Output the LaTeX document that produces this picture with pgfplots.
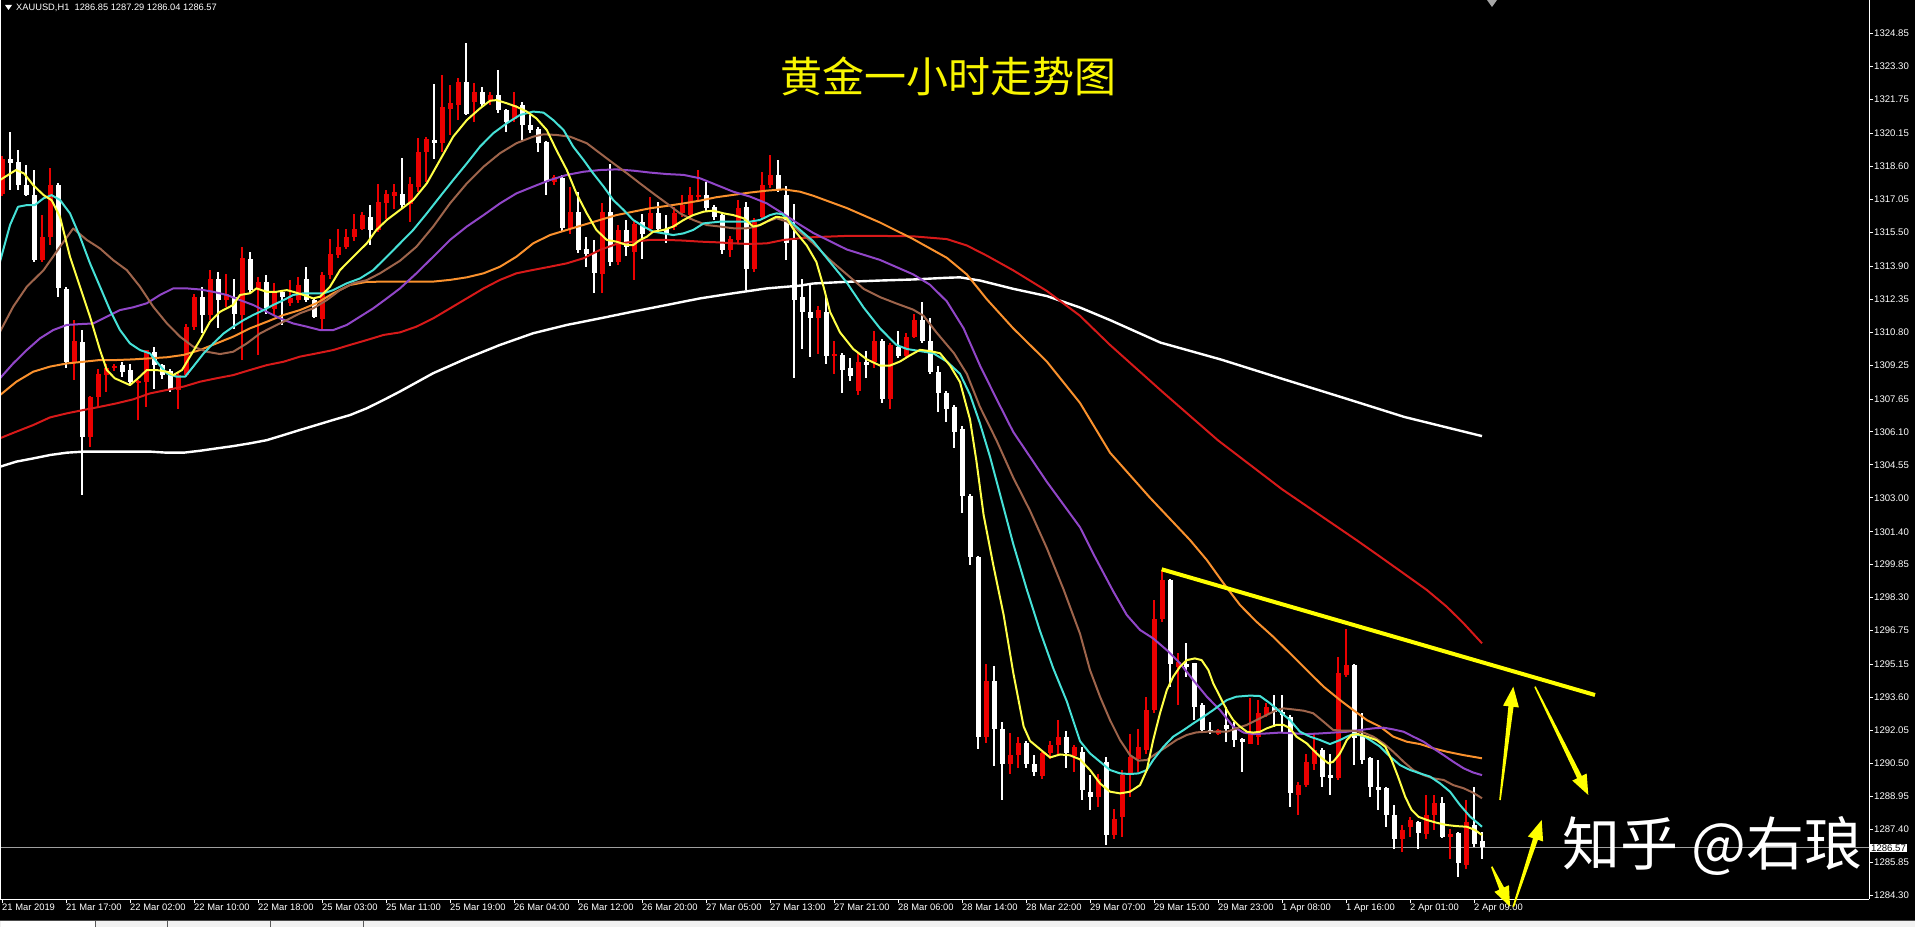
\documentclass[border=0pt]{standalone}
\usepackage{fontspec}
\setmainfont{Liberation Sans}
\newfontfamily\cjk{Noto Sans CJK SC}
\usepackage{pgfplots}
\pgfplotsset{compat=1.18}
\usepackage{pgfplotstable}
\usetikzlibrary{calc}
\pgfdeclarelayer{bg}
\pgfsetlayers{bg,main}
\definecolor{candred}{RGB}{235,0,0}
\definecolor{mayellow}{RGB}{255,255,70}
\definecolor{macyan}{RGB}{70,225,215}
\definecolor{mabrown}{RGB}{158,100,75}
\definecolor{mapurple}{RGB}{145,70,200}
\definecolor{maorange}{RGB}{250,145,45}
\definecolor{mared}{RGB}{215,25,25}
\definecolor{annoyellow}{RGB}{255,255,0}
\definecolor{titleyellow}{RGB}{248,245,0}

\pgfplotstableread{
i o h l c
0 1317.32 1319.10 1317.20 1318.97
5 1314.18 1316.30 1314.10 1315.28
6 1315.28 1318.50 1314.90 1317.71
9 1309.40 1311.36 1308.54 1310.37
11 1305.87 1307.80 1305.40 1307.76
12 1307.76 1309.09 1307.30 1308.85
13 1308.78 1309.32 1308.00 1309.09
14 1309.13 1309.32 1308.95 1309.20
17 1308.40 1308.56 1306.66 1308.50
18 1308.46 1309.95 1307.28 1309.95
22 1308.07 1308.93 1307.20 1308.78
23 1308.78 1311.20 1308.70 1311.05
24 1311.05 1312.60 1310.90 1312.46
26 1311.60 1313.71 1311.36 1313.32
28 1312.30 1313.56 1312.00 1312.62
30 1311.60 1314.81 1309.48 1314.26
32 1312.85 1313.40 1309.72 1313.16
34 1311.91 1313.10 1311.60 1312.69
36 1312.15 1313.24 1312.05 1312.38
37 1312.30 1313.40 1312.15 1313.01
40 1311.44 1313.64 1310.89 1313.48
41 1313.48 1315.20 1313.30 1314.50
42 1314.42 1315.67 1314.30 1314.81
43 1314.81 1315.67 1314.70 1315.28
44 1315.28 1316.38 1315.10 1315.67
45 1315.67 1316.46 1315.60 1316.30
47 1315.60 1317.79 1315.50 1316.93
48 1316.85 1317.48 1316.14 1317.32
49 1317.24 1317.79 1316.60 1317.40
51 1316.85 1318.10 1315.99 1317.79
52 1317.64 1319.91 1317.40 1319.28
53 1319.28 1320.00 1317.87 1319.91
55 1319.68 1322.89 1319.28 1321.40
56 1321.32 1322.42 1320.07 1321.56
57 1321.48 1322.73 1320.77 1322.58
59 1321.64 1322.50 1320.69 1322.11
61 1321.72 1322.11 1321.50 1321.95
64 1320.85 1322.11 1320.70 1321.48
69 1317.87 1318.20 1317.70 1318.10
71 1315.67 1317.64 1315.44 1316.46
75 1313.56 1316.85 1312.62 1316.46
77 1314.10 1315.83 1313.95 1315.60
79 1314.58 1316.07 1313.24 1315.91
81 1315.67 1317.16 1315.50 1316.38
84 1315.75 1316.70 1315.60 1316.38
85 1316.38 1317.24 1316.20 1316.77
86 1316.30 1317.64 1316.10 1317.24
87 1317.16 1318.42 1317.00 1317.24
91 1314.65 1315.30 1314.34 1315.20
92 1315.12 1317.00 1315.00 1316.62
94 1313.79 1316.14 1313.60 1315.99
95 1316.22 1318.34 1316.10 1317.71
96 1317.71 1319.13 1317.60 1318.18
102 1311.46 1312.05 1309.80 1311.85
104 1309.67 1310.39 1308.83 1309.80
107 1308.05 1309.80 1307.85 1309.41
109 1309.41 1310.87 1309.12 1310.39
111 1307.66 1310.29 1307.17 1310.19
113 1309.70 1310.78 1309.60 1310.58
114 1310.58 1311.65 1310.50 1311.36
123 1291.76 1295.17 1291.47 1294.39
126 1290.49 1291.95 1290.00 1290.88
127 1290.88 1291.76 1290.30 1291.47
130 1289.90 1291.07 1289.80 1290.98
131 1290.98 1291.56 1290.70 1291.37
132 1291.37 1292.54 1290.88 1291.76
134 1290.88 1291.37 1290.10 1291.27
137 1288.93 1290.03 1288.46 1289.80
139 1287.13 1288.38 1286.97 1287.91
140 1287.99 1290.19 1287.05 1289.95
141 1290.03 1291.91 1288.93 1290.82
142 1290.74 1292.15 1290.11 1291.29
143 1291.13 1293.64 1290.97 1293.01
144 1293.01 1298.19 1292.86 1297.32
145 1297.32 1299.60 1297.17 1299.13
147 1295.05 1295.68 1293.25 1295.29
152 1291.91 1292.15 1291.85 1292.07
156 1291.44 1293.56 1291.44 1291.91
157 1291.76 1293.48 1291.36 1292.86
158 1292.78 1293.33 1292.70 1293.17
162 1289.01 1289.64 1288.07 1289.48
163 1289.48 1290.97 1289.40 1290.58
164 1290.50 1291.91 1290.19 1291.13
167 1289.80 1295.52 1289.72 1294.74
168 1294.66 1296.85 1294.58 1295.13
175 1286.97 1287.60 1286.35 1287.37
176 1287.52 1287.99 1287.05 1287.83
178 1287.21 1289.01 1286.97 1288.07
179 1288.07 1289.01 1287.37 1288.62
181 1287.05 1287.44 1286.03 1287.21
183 1285.72 1288.78 1285.56 1287.76
}\bullT

\pgfplotstableread{
i o h l c
1 1318.97 1320.22 1317.48 1318.78
2 1318.81 1319.36 1317.48 1317.71
3 1317.71 1318.65 1317.20 1317.24
4 1317.24 1318.42 1314.10 1314.18
7 1317.71 1317.80 1312.46 1312.85
8 1312.85 1312.90 1309.09 1309.40
10 1310.37 1310.89 1303.13 1305.87
15 1309.25 1309.40 1308.70 1308.93
16 1309.00 1309.32 1308.30 1308.46
19 1309.87 1310.10 1308.15 1309.25
20 1309.25 1309.32 1308.62 1308.78
21 1309.00 1309.09 1308.00 1308.15
25 1312.46 1312.93 1310.73 1311.60
27 1313.32 1313.64 1310.97 1312.30
29 1312.46 1313.32 1310.97 1311.67
31 1314.26 1314.57 1312.60 1312.77
33 1313.16 1313.48 1311.67 1311.91
35 1312.69 1312.80 1311.13 1312.46
38 1313.32 1313.87 1312.20 1312.30
39 1312.30 1312.40 1311.44 1311.52
46 1316.22 1316.77 1314.89 1315.60
50 1317.32 1318.97 1316.60 1316.77
54 1319.83 1322.50 1318.97 1319.68
58 1322.58 1324.38 1321.01 1321.09
60 1322.11 1322.34 1321.40 1321.56
62 1321.95 1323.13 1321.09 1321.24
63 1321.24 1321.30 1320.23 1320.69
65 1321.48 1321.64 1319.83 1320.54
66 1320.54 1321.01 1320.15 1320.30
67 1320.38 1320.45 1319.28 1319.68
68 1319.76 1319.80 1317.24 1317.87
70 1318.03 1318.18 1315.50 1315.67
72 1316.46 1317.40 1314.50 1314.65
73 1314.73 1315.28 1313.87 1314.50
74 1314.50 1315.12 1312.62 1313.56
76 1316.46 1318.73 1313.90 1314.10
78 1315.60 1316.07 1314.40 1314.81
80 1315.99 1316.38 1314.26 1315.44
82 1316.38 1316.93 1315.50 1315.67
83 1315.67 1316.30 1314.97 1315.44
88 1317.24 1317.87 1316.50 1316.62
89 1316.70 1316.80 1316.10 1316.22
90 1316.30 1316.40 1314.50 1314.65
93 1316.70 1316.90 1312.77 1313.79
97 1318.18 1318.89 1317.40 1317.56
98 1317.24 1317.70 1314.18 1315.00
99 1315.12 1316.82 1308.63 1312.30
100 1312.44 1313.31 1310.00 1311.75
101 1311.75 1313.02 1309.60 1311.46
103 1311.75 1312.44 1309.30 1309.70
105 1309.70 1309.80 1307.95 1309.02
106 1309.12 1309.60 1308.50 1308.73
108 1309.41 1309.90 1308.63 1309.26
110 1310.39 1310.48 1307.46 1307.66
112 1310.10 1310.87 1309.60 1309.70
115 1311.36 1312.24 1310.30 1310.39
116 1310.39 1311.46 1308.83 1308.92
117 1308.92 1309.20 1307.07 1307.95
118 1307.95 1308.05 1306.58 1307.17
119 1307.27 1307.36 1305.32 1306.10
120 1306.25 1306.39 1302.29 1303.07
121 1303.07 1303.17 1299.85 1300.24
122 1300.24 1300.28 1291.17 1291.76
124 1294.39 1295.08 1290.39 1292.15
125 1292.15 1292.44 1288.77 1290.49
128 1291.47 1291.56 1290.30 1290.49
129 1290.49 1290.88 1289.90 1290.10
133 1291.76 1292.05 1290.30 1290.98
135 1291.05 1291.29 1288.78 1289.25
136 1289.17 1289.95 1288.31 1288.93
138 1290.58 1290.82 1286.66 1287.13
146 1299.13 1299.20 1294.11 1295.21
148 1295.21 1296.15 1294.58 1295.05
149 1295.21 1295.25 1292.54 1293.17
150 1293.25 1293.33 1291.91 1292.07
151 1292.11 1292.46 1291.91 1292.02
153 1292.31 1293.17 1291.52 1292.15
154 1292.23 1292.46 1291.29 1291.60
155 1291.64 1291.68 1290.11 1291.49
159 1293.17 1293.72 1292.23 1292.93
160 1292.93 1293.72 1292.00 1292.78
161 1292.70 1292.78 1288.46 1289.09
165 1291.13 1291.21 1289.40 1289.88
166 1289.95 1290.97 1289.01 1289.80
169 1295.13 1295.20 1290.42 1291.68
170 1291.84 1292.86 1290.50 1290.66
171 1290.74 1290.80 1288.93 1289.40
172 1289.40 1290.66 1288.31 1289.25
173 1289.33 1289.40 1287.52 1288.07
174 1288.07 1288.54 1286.50 1286.97
177 1287.76 1287.80 1286.50 1287.21
180 1288.62 1288.93 1286.97 1287.05
182 1287.21 1287.29 1285.17 1285.80
184 1287.60 1289.40 1286.58 1286.74
185 1286.85 1287.29 1286.04 1286.57
}\bearT

\newcommand{\yarrow}[2]{%
  \coordinate (T) at #1; \coordinate (P) at #2;
  \coordinate (B) at ($(P)!20pt!(T)$);
  \fill[annoyellow] ($(T)!0.8pt!90:(P)$) -- ($(B)!2.6pt!90:(P)$) -- ($(B)!8pt!90:(P)$) -- (P)
     -- ($(B)!8pt!-90:(P)$) -- ($(B)!2.6pt!-90:(P)$) -- ($(T)!0.8pt!-90:(P)$) -- cycle;}

\begin{document}
\begin{tikzpicture}[x=1pt,y=1pt]
\begin{axis}[
  at={(0,28)}, anchor=south west, scale only axis,
  width=1869pt, height=899pt,
  xmin=-0.25, xmax=233.375, ymin=1284.12, ymax=1326.42,
  axis x line=bottom, axis y line=right,
  axis line style={-, white, line width=1pt},
  tick align=outside, major tick length=4pt,
  tick style={white, line width=0.8pt},
  xtick={0,8,...,184},
  xticklabels={21 Mar 2019,21 Mar 17:00,22 Mar 02:00,22 Mar 10:00,22 Mar 18:00,25 Mar 03:00,25 Mar 11:00,25 Mar 19:00,26 Mar 04:00,26 Mar 12:00,26 Mar 20:00,27 Mar 05:00,27 Mar 13:00,27 Mar 21:00,28 Mar 06:00,28 Mar 14:00,28 Mar 22:00,29 Mar 07:00,29 Mar 15:00,29 Mar 23:00,1 Apr 08:00,1 Apr 16:00,2 Apr 01:00,2 Apr 09:00},
  ytick={1324.85,1323.30,1321.75,1320.15,1318.60,1317.05,1315.50,1313.90,1312.35,1310.80,1309.25,1307.65,1306.10,1304.55,1303.00,1301.40,1299.85,1298.30,1296.75,1295.15,1293.60,1292.05,1290.50,1288.95,1287.40,1285.85,1284.30},
  yticklabels={1324.85,1323.30,1321.75,1320.15,1318.60,1317.05,1315.50,1313.90,1312.35,1310.80,1309.25,1307.65,1306.10,1304.55,1303.00,1301.40,1299.85,1298.30,1296.75,1295.15,1293.60,1292.05,1290.50,1288.95,1287.40,1285.85,1284.30},
  yticklabel style={anchor=west, inner sep=0pt, xshift=1pt, text=white, font=\fontsize{9.6}{11}\selectfont},
  xticklabel style={anchor=north west, inner sep=0pt, yshift=-1pt, text=white, font=\fontsize{9.4}{10}\selectfont},
  line join=round,
]
\coordinate (O) at (rel axis cs:0,0);
% current price line
\addplot[color=gray!75, line width=0.8pt, forget plot] coordinates {(-1,1286.57) (240,1286.57)};
% wicks
\addplot[draw=none, mark=none, forget plot, error bars/.cd, y dir=both, y explicit, error mark=none,
  error bar style={draw=candred, line width=1.1pt}]
  table[x=i, y expr={(\thisrow{h}+\thisrow{l})/2}, y error expr={(\thisrow{h}-\thisrow{l})/2}] {\bullT};
\addplot[draw=none, mark=none, forget plot, error bars/.cd, y dir=both, y explicit, error mark=none,
  error bar style={draw=white, line width=1.1pt}]
  table[x=i, y expr={(\thisrow{h}+\thisrow{l})/2}, y error expr={(\thisrow{h}-\thisrow{l})/2}] {\bearT};
% bodies
\addplot[draw=none, mark=none, forget plot, error bars/.cd, y dir=both, y explicit, error mark=none,
  error bar style={draw=candred, line width=5pt}]
  table[x=i, y expr={(\thisrow{o}+\thisrow{c})/2}, y error expr={max(abs(\thisrow{c}-\thisrow{o})/2,0.022)}] {\bullT};
\addplot[draw=none, mark=none, forget plot, error bars/.cd, y dir=both, y explicit, error mark=none,
  error bar style={draw=white, line width=5pt}]
  table[x=i, y expr={(\thisrow{o}+\thisrow{c})/2}, y error expr={max(abs(\thisrow{c}-\thisrow{o})/2,0.022)}] {\bearT};
% white MA
\addplot[white, line width=2.4pt] coordinates {(-0.25,1304.46) (1.8,1304.70) (3.9,1304.85) (6,1305.01) (8.1,1305.12) (10.2,1305.17) (18.5,1305.17) (20.6,1305.12) (22.7,1305.12) (24.75,1305.21) (26.8,1305.32) (28.9,1305.43) (31,1305.56) (33.1,1305.71) (35.2,1305.95) (37.25,1306.19) (39.3,1306.42) (41.4,1306.66) (43.5,1306.89) (45.6,1307.21) (47.7,1307.60) (49.75,1308.0) (53.9,1308.86) (58.1,1309.56) (62.25,1310.19) (66.4,1310.74) (70.6,1311.13) (74.75,1311.44) (78.9,1311.76) (83.1,1312.07) (87.25,1312.38) (91.4,1312.62) (95.6,1312.85) (99.75,1312.98) (101.4,1313.08) (105.6,1313.16) (109.75,1313.22) (113.9,1313.27) (118.1,1313.35) (119.75,1313.37) (122.25,1313.22) (126.4,1312.83) (130.6,1312.49) (134.75,1311.95) (138.5,1311.36) (144.8,1310.3) (152.4,1309.5) (160,1308.6) (167.7,1307.7) (175.3,1306.8) (185,1305.9)};
% red MA
\addplot[mared, line width=2pt] coordinates {(-0.25,1305.80) (1.8,1306.11) (3.9,1306.42) (6,1306.78) (8.1,1306.97) (10.2,1307.13) (12.25,1307.28) (14.3,1307.44) (16.4,1307.63) (18.5,1307.91) (20.6,1308.07) (22.7,1308.23) (24.75,1308.46) (26.8,1308.62) (28.9,1308.77) (31,1309.01) (33.1,1309.24) (35.2,1309.40) (37.25,1309.64) (39.3,1309.79) (41.4,1309.95) (43.5,1310.19) (45.6,1310.42) (47.7,1310.66) (49.75,1310.78) (51.8,1311.05) (53.9,1311.44) (56,1311.91) (58.1,1312.38) (60.2,1312.85) (62.25,1313.25) (64.3,1313.56) (66.4,1313.72) (68.5,1313.87) (70.6,1314.03) (72.7,1314.27) (74.75,1314.66) (76.8,1314.94) (78.9,1315.05) (81,1315.13) (83.1,1315.13) (85.2,1315.10) (87.25,1315.05) (89.3,1315.02) (91.4,1314.97) (93.5,1314.94) (95.6,1314.97) (97.7,1315.13) (99.75,1315.21) (101.4,1315.26) (105.6,1315.32) (109.75,1315.32) (113.9,1315.30) (118.1,1315.17) (120.6,1314.87) (123.1,1314.39) (126.4,1313.70) (130.6,1312.73) (134.75,1311.56) (138.5,1310.19) (145,1308.0) (152,1305.7) (160,1303.4) (169.3,1301.01) (172.25,1300.23) (175.2,1299.44) (178.1,1298.66) (180.6,1297.87) (182.7,1297.09) (185,1296.15)};
% orange MA
\addplot[maorange, line width=2pt] coordinates {(-0.25,1307.83) (1.8,1308.46) (3.9,1308.93) (6,1309.17) (8.1,1309.32) (10.2,1309.40) (12.25,1309.48) (14.3,1309.48) (16.4,1309.51) (18.5,1309.56) (20.6,1309.61) (22.7,1309.72) (24.75,1309.95) (26.8,1310.26) (28.9,1310.58) (31,1310.97) (33.1,1311.28) (35.2,1311.60) (37.25,1311.83) (39.3,1312.15) (41.4,1312.62) (43.5,1313.01) (45.6,1313.16) (49.75,1313.17) (53.9,1313.17) (56,1313.25) (58.1,1313.37) (60.2,1313.56) (62.25,1313.87) (64.3,1314.34) (66.4,1314.97) (68.5,1315.36) (70.6,1315.60) (72.7,1315.84) (74.75,1316.07) (76.8,1316.30) (78.9,1316.46) (81,1316.62) (83.1,1316.73) (85.2,1316.85) (87.25,1316.98) (89.3,1317.14) (91.4,1317.25) (93.5,1317.36) (95.6,1317.45) (97.7,1317.51) (99.75,1317.40) (101.4,1317.21) (105.6,1316.63) (109.75,1315.95) (113.9,1315.17) (118.1,1314.29) (120.6,1313.51) (123.1,1312.34) (126.4,1310.97) (130.6,1309.41) (134.75,1307.46) (138.5,1305.12) (143.5,1303.0) (148.5,1301.01) (150.6,1300.07) (152.7,1298.97) (154.75,1297.95) (156.8,1297.17) (158.9,1296.46) (161,1295.68) (163.1,1294.89) (165.2,1294.11) (167.25,1293.48) (168.9,1293.01) (170.6,1292.54) (172.25,1292.23) (173.9,1291.76) (175.6,1291.52) (177.25,1291.41) (178.9,1291.21) (180.6,1291.05) (182.7,1290.89) (185,1290.74)};
% purple MA
\addplot[mapurple, line width=2pt] coordinates {(-0.25,1308.62) (1.4,1309.32) (3.1,1309.95) (4.75,1310.50) (6.4,1310.89) (8.1,1311.13) (9.75,1311.17) (11.4,1311.20) (13.1,1311.52) (14.75,1311.83) (16.4,1311.96) (18.1,1312.15) (19.75,1312.54) (21.4,1312.85) (23.1,1312.85) (24.75,1312.80) (26.4,1312.69) (28.1,1312.54) (29.75,1312.30) (31.4,1312.07) (33.1,1311.75) (34.75,1311.44) (36.4,1311.20) (38.1,1311.05) (39.75,1310.89) (41.4,1310.89) (43.1,1311.13) (44.75,1311.52) (46.4,1311.91) (48.1,1312.38) (49.75,1312.85) (51.8,1313.56) (53.9,1314.34) (56,1315.13) (58.1,1315.76) (60.2,1316.30) (62.25,1316.85) (64.3,1317.32) (66.4,1317.64) (68.5,1317.95) (70.6,1318.19) (72.7,1318.34) (74.75,1318.42) (76.8,1318.45) (78.9,1318.39) (81,1318.30) (83.1,1318.23) (85.2,1318.19) (87.25,1318.03) (89.3,1317.72) (91.4,1317.40) (93.5,1317.17) (95.6,1316.85) (97.5,1316.4) (99.3,1315.95) (101.4,1315.46) (105.6,1314.68) (109.75,1314.19) (113.9,1313.51) (116,1313.02) (118.1,1312.24) (120.2,1310.97) (122.25,1309.22) (124.3,1307.66) (126.4,1306.10) (130.6,1303.75) (134.75,1301.61) (136.5,1300.3) (138.9,1298.6) (140.6,1297.48) (142.25,1296.78) (143.9,1296.38) (145.6,1295.83) (147.25,1295.21) (148.9,1294.42) (150.6,1293.64) (152.25,1293.01) (153.9,1292.23) (155.2,1291.95) (156.4,1291.88) (158.1,1291.91) (159.75,1291.95) (163.1,1291.88) (164.75,1291.91) (166.4,1291.95) (168.1,1291.99) (169.75,1292.07) (171.4,1292.15) (172.7,1292.18) (173.9,1292.10) (175.2,1291.99) (176.4,1291.76) (177.7,1291.52) (178.9,1291.21) (180.2,1290.89) (181.4,1290.58) (182.7,1290.27) (183.9,1290.07) (185,1289.95)};
% brown MA
\addplot[mabrown, line width=2pt] coordinates {(-0.25,1310.81) (1.4,1311.99) (3.1,1312.93) (5.2,1313.71) (7.25,1314.81) (8.9,1315.67) (10.6,1315.13) (12.25,1314.73) (13.9,1314.18) (15.6,1313.71) (17.25,1312.93) (18.9,1311.99) (20.6,1311.21) (22.25,1310.58) (23.9,1310.11) (25.6,1309.87) (27.25,1309.76) (28.9,1309.87) (30.6,1310.26) (32.25,1310.73) (33.9,1311.05) (35.6,1311.36) (37.25,1311.68) (38.9,1311.91) (40.6,1312.30) (42.25,1312.77) (43.9,1313.09) (45.6,1313.24) (47.25,1313.56) (49.75,1314.15) (51.8,1314.81) (53.9,1315.76) (56,1316.85) (58.1,1317.79) (60.2,1318.58) (62.25,1319.21) (64.3,1319.68) (66.4,1319.99) (67.7,1320.10) (69.3,1320.07) (71,1319.99) (73.1,1319.68) (74.75,1319.21) (76.4,1318.74) (78.1,1318.27) (79.75,1317.79) (81.4,1317.32) (83.1,1316.85) (84.75,1316.38) (86.4,1316.07) (88.1,1315.83) (89.75,1315.76) (91.4,1315.68) (93.1,1315.68) (94.3,1315.76) (95.6,1315.99) (96.8,1316.15) (98.1,1316.0) (99.3,1315.65) (101.4,1314.97) (103.5,1314.19) (105.6,1313.51) (107.7,1312.83) (109.75,1312.44) (111.8,1312.14) (113.9,1311.85) (115.2,1311.56) (116.8,1310.78) (119,1309.80) (120.6,1308.83) (122.25,1307.27) (124.3,1305.71) (126.4,1303.95) (128.5,1302.39) (130.6,1300.63) (132.7,1298.68) (134.75,1296.6) (136,1294.89) (137.25,1293.64) (138.5,1292.54) (139.75,1291.60) (141,1290.89) (142.05,1290.63) (143.1,1290.66) (144.3,1290.97) (145.6,1291.29) (146.8,1291.60) (148.1,1291.84) (149.3,1291.96) (150.6,1291.99) (153.1,1291.99) (154.3,1292.15) (155.6,1292.31) (156.8,1292.54) (158.1,1292.78) (159.3,1293.01) (160.2,1293.09) (161.4,1293.04) (162.7,1292.98) (163.9,1292.86) (165.2,1292.46) (166.4,1292.07) (167.7,1292.04) (168.9,1292.04) (170.2,1291.95) (171.4,1291.76) (172.7,1291.44) (173.9,1291.05) (175.2,1290.58) (176.4,1290.19) (177.7,1289.95) (178.9,1289.80) (180.2,1289.72) (181.4,1289.48) (182.7,1289.33) (183.9,1289.12) (185,1288.86)};
% cyan MA
\addplot[macyan, line width=2pt] coordinates {(-0.25,1314.11) (1.0,1315.83) (2.0,1316.69) (3.1,1316.77) (4.1,1316.77) (5.2,1317.09) (6.2,1317.24) (7.25,1317.01) (8.5,1316.38) (9.75,1315.28) (11,1314.03) (12.25,1312.93) (13.5,1311.83) (14.75,1310.89) (16,1310.26) (17.25,1309.95) (18.5,1309.79) (19.5,1309.32) (20.6,1308.85) (21.8,1308.70) (22.9,1308.70) (23.9,1309.17) (25.2,1309.79) (26.4,1310.26) (27.7,1310.73) (28.9,1311.05) (30.2,1311.36) (31.4,1311.60) (32.7,1311.83) (33.9,1312.07) (35.2,1312.30) (36.4,1312.54) (37.7,1312.62) (40.2,1312.62) (41.4,1312.77) (43.1,1313.09) (44.75,1313.32) (46.4,1313.71) (48.1,1314.34) (49.75,1314.97) (51.4,1315.60) (53.1,1316.38) (54.75,1317.17) (56.4,1317.95) (58.1,1318.73) (59.75,1319.52) (61.4,1320.15) (63.1,1320.62) (64.75,1321.01) (66.4,1321.17) (67.7,1321.12) (68.9,1320.77) (70.2,1320.30) (71.4,1319.52) (72.7,1318.89) (73.9,1318.26) (75.2,1317.64) (76.4,1317.01) (77.7,1316.54) (78.9,1316.07) (80.2,1315.76) (81.4,1315.52) (82.7,1315.44) (83.9,1315.36) (85.2,1315.44) (86.4,1315.60) (87.7,1315.91) (89.75,1315.99) (93.5,1315.99) (94.75,1316.07) (96,1316.30) (96.8,1316.38) (97.5,1316.35) (99.3,1315.75) (101.4,1315.07) (103.5,1314.09) (105.6,1313.12) (107.7,1311.95) (109.75,1310.97) (111.8,1310.19) (113.1,1310.0) (114.75,1309.90) (116.4,1309.80) (118.1,1309.41) (119.75,1308.83) (121,1307.85) (122.25,1306.49) (123.5,1304.93) (124.75,1303.17) (126.4,1300.83) (128.1,1298.68) (129.75,1296.73) (131.4,1294.98) (133.1,1293.42) (134.75,1291.55) (136,1290.97) (137.25,1290.58) (138.5,1290.19) (139.75,1290.03) (141,1290.00) (142.05,1290.03) (143.1,1290.19) (143.9,1290.66) (145.2,1291.29) (146.4,1291.76) (147.7,1292.07) (148.9,1292.38) (150.2,1292.70) (151.4,1293.01) (152.25,1293.25) (153.1,1293.48) (154.3,1293.64) (156,1293.69) (157.25,1293.67) (158.5,1293.33) (159.75,1292.93) (161,1292.54) (162.25,1291.99) (163.5,1291.76) (164.75,1291.60) (166,1291.41) (167.25,1291.60) (168.1,1291.76) (168.9,1291.88) (170.2,1291.79) (171,1291.60) (172.25,1291.29) (173.5,1290.82) (174.75,1290.42) (176,1290.19) (177.25,1290.03) (178.5,1289.88) (179.75,1289.56) (181,1289.17) (182.25,1288.54) (183.5,1288.0) (184.5,1287.68) (185,1287.52)};
% yellow MA
\addplot[mayellow, line width=2pt] coordinates {(-0.25,1317.95) (1.75,1318.42) (2.75,1318.26) (3.9,1317.71) (5.2,1317.24) (6.2,1317.0) (7.25,1316.22) (8.5,1314.34) (9.75,1312.93) (11,1311.52) (12.25,1309.95) (13.1,1309.01) (14.1,1308.62) (16,1308.30) (17,1308.62) (18.1,1309.01) (19.3,1309.01) (20.6,1308.93) (21.4,1308.77) (22.5,1309.01) (23.5,1309.64) (24.75,1310.42) (26,1311.28) (27.25,1311.75) (28.9,1312.07) (29.75,1312.54) (31,1312.62) (31.8,1312.85) (33.1,1312.69) (34.3,1312.69) (35.6,1312.77) (36.4,1312.69) (37.7,1312.54) (38.9,1312.38) (39.75,1312.46) (41,1312.93) (42.25,1313.71) (43.9,1314.34) (45.6,1314.97) (46.8,1315.60) (48.1,1316.07) (49.75,1316.54) (51.4,1317.01) (53.1,1317.79) (54.75,1318.89) (56.4,1319.99) (58.1,1320.77) (59.75,1321.32) (61,1321.68) (61.8,1321.71) (63.1,1321.56) (64.3,1321.40) (65.6,1321.17) (66.8,1320.85) (68.1,1320.30) (69.3,1319.36) (70.6,1318.42) (71.8,1317.32) (73.1,1316.38) (74.3,1315.60) (75.6,1315.13) (76.8,1315.05) (78.1,1314.89) (78.9,1314.89) (79.75,1315.13) (80.6,1315.28) (81.4,1315.52) (82.7,1315.60) (83.9,1315.76) (85.2,1316.07) (86.4,1316.30) (87.7,1316.46) (88.9,1316.51) (90.2,1316.38) (91.4,1316.30) (92.7,1316.15) (93.9,1315.76) (94.75,1315.83) (96,1316.07) (96.8,1316.22) (98.1,1316.15) (98.9,1315.65) (100.6,1314.87) (101.8,1314.09) (102.7,1312.92) (103.5,1311.75) (104.75,1310.78) (106.4,1310.0) (108.1,1309.51) (109.75,1309.22) (111,1309.22) (112.25,1309.41) (113.5,1309.70) (114.75,1309.96) (116,1309.90) (117.25,1309.80) (118.5,1309.22) (119.75,1308.44) (121,1306.68) (121.8,1304.73) (122.7,1302.19) (123.9,1299.85) (125.2,1297.49) (126.4,1294.78) (127.7,1292.24) (128.5,1291.56) (129.75,1291.17) (131,1290.78) (132.25,1290.92) (133.5,1290.88) (134.75,1290.69) (136,1290.19) (137.25,1289.56) (138.5,1289.17) (139.75,1289.09) (141,1289.17) (142.25,1289.48) (143.1,1290.19) (143.9,1291.60) (144.75,1292.86) (145.6,1293.95) (146.4,1294.58) (147.25,1295.05) (148.1,1295.36) (149.1,1295.44) (149.95,1295.36) (150.8,1294.89) (151.4,1294.27) (152.25,1293.64) (153.1,1293.01) (153.9,1292.54) (154.75,1292.23) (155.6,1291.99) (156.4,1291.95) (157.25,1291.99) (158.1,1292.15) (159.3,1292.31) (160.2,1292.31) (161,1292.15) (161.8,1291.76) (163.1,1291.44) (163.9,1291.13) (164.75,1290.82) (165.8,1290.50) (166.4,1290.58) (167.25,1290.97) (168.1,1291.60) (168.7,1291.84) (169.5,1291.88) (170.6,1291.76) (171.8,1291.60) (172.9,1291.29) (173.7,1290.66) (174.5,1289.88) (175.4,1288.93) (176.2,1288.31) (177.05,1287.99) (178.1,1287.84) (179.3,1287.71) (180.6,1287.60) (181.8,1287.55) (183.1,1287.52) (184.1,1287.37) (185,1287.13)};
\end{axis}
\begin{scope}[shift={($(O)+(0,-28)$)}]
\begin{pgfonlayer}{bg}
\fill[black] (0,0) rectangle (1915,927);
\end{pgfonlayer}
% left frame line
\draw[white, line width=1pt] (0.5,28) -- (0.5,927);
% current price box
\node[anchor=west, fill=white, text=black, inner sep=1pt, font=\fontsize{9.6}{11}\selectfont] at (1870,79) {1286.57};
% trend line and arrows
\draw[annoyellow, line width=4pt] (1161.7,357.7) -- (1595,232);
\yarrow{(1500,127)}{(1513.3,240.3)}
\yarrow{(1535,240.3)}{(1588.3,132)}
\yarrow{(1513.3,20.3)}{(1541.7,107)}
\yarrow{(1491.7,60.3)}{(1510,20.3)}
% title and watermark
\node[text=titleyellow, font=\cjk\fontsize{42}{42}\selectfont, inner sep=0pt] at (948,851) {黄金一小时走势图};
\node[anchor=west, text=white, font=\cjk\fontsize{58}{58}\selectfont, inner sep=0pt] at (1562,81) {知乎 @右琅};
% header
\fill[white] (5,922) -- (12,922) -- (8.5,917) -- cycle;
\node[anchor=west, inner sep=0pt, text=white, font=\fontsize{9.3}{10}\selectfont] at (16,919) {XAUUSD,H1\ \ 1286.85 1287.29 1286.04 1286.57};
\fill[gray!70] (1487,927) -- (1497,927) -- (1492,920) -- cycle;
% bottom tab strip
\fill[gray!10] (0,0) rectangle (1915,7);
\draw[gray!60!black, line width=0.8pt] (0,7) -- (1915,7);
\fill[white] (1,0) rectangle (95,6.5);
\foreach \xx in {95,167,270,363} {\draw[gray!70!black, line width=0.6pt] (\xx,0) -- (\xx,6.5);}
\pgfresetboundingbox
\path[use as bounding box] (0,0) rectangle (1915,927);
\end{scope}
\end{tikzpicture}
\end{document}
